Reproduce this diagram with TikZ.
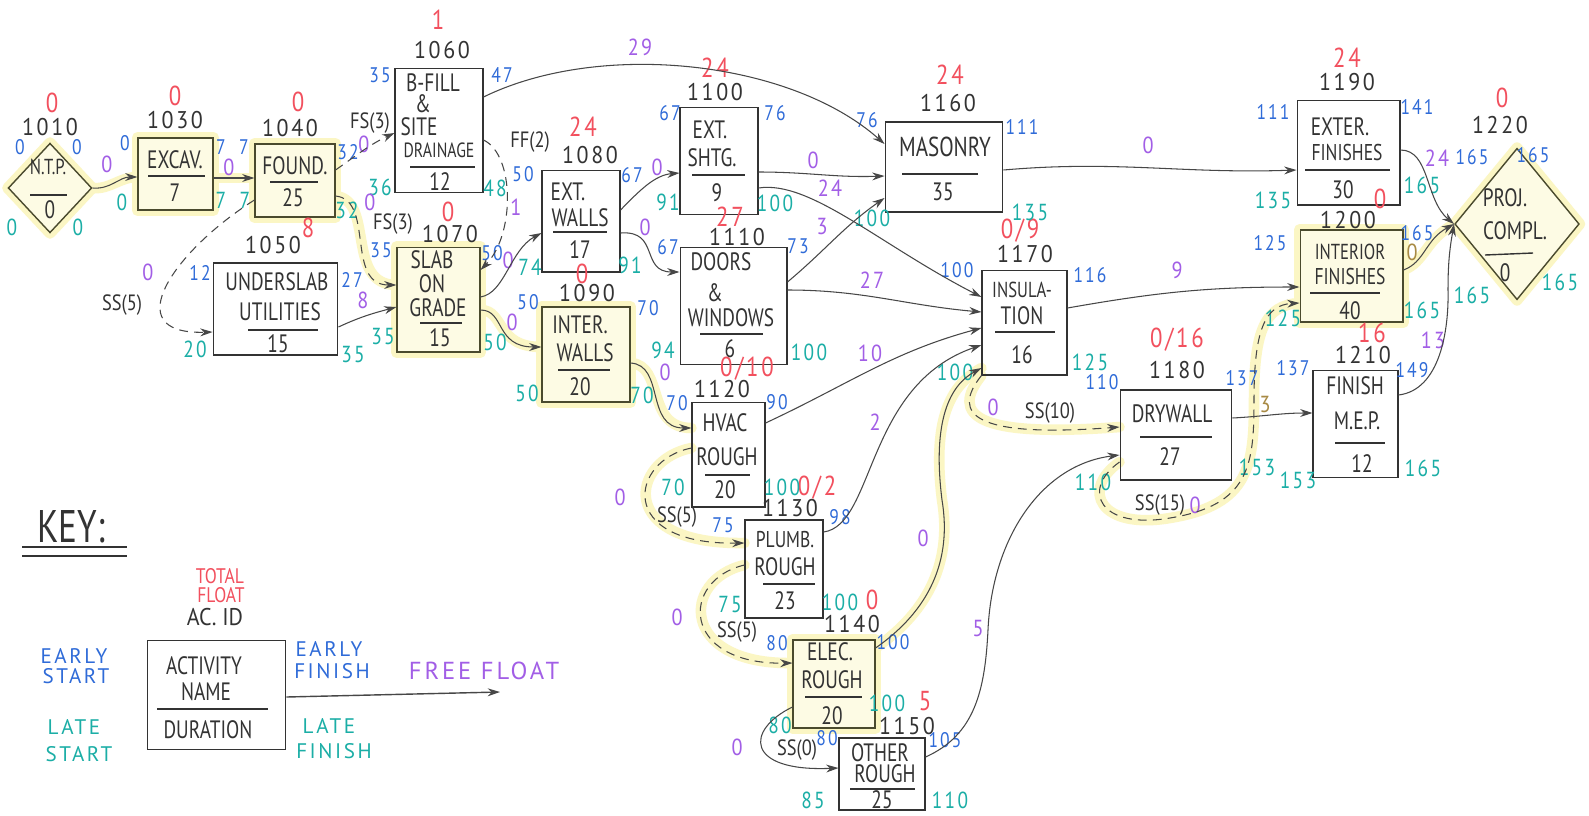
\documentclass[tikz,border=0pt]{standalone}
\usepackage{fontspec}
\setmainfont{PT Sans}
\newfontfamily\numfont{PT Sans}[LetterSpace=12]
\usetikzlibrary{arrows.meta,shapes.geometric}
\pgfdeclarelayer{bg}
\pgfsetlayers{bg,main}
\newcommand{\myfs}[1]{\fontsize{#1}{#1}\selectfont}
\newcommand{\critdraw}[2]{\begin{pgfonlayer}{bg}\path[glowline] #2;\end{pgfonlayer}\draw[#1] #2;}
\definecolor{ink}{HTML}{333333}
\definecolor{esblue}{HTML}{2F6BD8}
\definecolor{lsteal}{HTML}{1BAEA6}
\definecolor{tfred}{HTML}{F2505E}
\definecolor{ffpurp}{HTML}{A25EE6}
\definecolor{olive}{HTML}{A88A45}
\definecolor{glowc}{HTML}{FBF6C4}
\definecolor{critink}{HTML}{4A4A2E}
\tikzset{
  wh/.style 2 args={minimum width=#1*0.56693pt, minimum height=#2*0.56693pt},
  abox/.style={draw=ink, line width=0.8pt, inner sep=0pt},
  cbox/.style={abox, draw=critink, fill=glowc!45},
  txt/.style={text=ink, font=\myfs{11}, inner sep=0pt, yscale=1.3, transform shape},
  stxt/.style={txt, font=\myfs{9.5}},
  idl/.style={text=ink, font=\numfont\myfs{12.5}, inner sep=0pt, yscale=1.1, transform shape},
  tf/.style={text=tfred, font=\numfont\myfs{13}, inner sep=0pt, yscale=1.2, transform shape},
  es/.style={text=esblue, font=\numfont\myfs{10}, inner sep=0pt, yscale=1.2, transform shape},
  ls/.style={es, text=lsteal, font=\numfont\myfs{11}},
  ff/.style={text=ffpurp, font=\numfont\myfs{11.5}, inner sep=0pt, yscale=1.15, transform shape},
  ffo/.style={ff, text=olive},
  lag/.style={text=ink, font=\myfs{10.5}, inner sep=0pt, yscale=1.2, transform shape},
  keyb/.style={text=esblue, font=\numfont\myfs{12}, inner sep=0pt},
  keyt/.style={keyb, text=lsteal},
  divl/.style={draw=ink, line width=0.8pt},
  conn/.style={draw=ink!90, line width=0.6pt, -{Stealth[length=7pt,width=4.5pt]}},
  dconn/.style={conn, dash pattern=on 5pt off 3.5pt},
  glowline/.style={draw=glowc, line width=6pt, line cap=round, line join=round}
}
\begin{document}
\begin{tikzpicture}[x=0.02cm,y=-0.02cm]
\useasboundingbox (0,0) rectangle (1589,815);
\begin{pgfonlayer}{bg}\fill[white] (0,0) rectangle (1589,815);\end{pgfonlayer}

% ---------- activity boxes ----------
\node[diamond, abox, draw=critink, fill=glowc!45, wh={84}{90}] (a1010) at (50,188) {};
\node[cbox, wh={75}{72}]   (a1030) at (175.5,174) {};
\node[cbox, wh={80}{73}]   (a1040) at (295,180.5) {};
\node[abox, wh={125}{92}]  (a1050) at (275.5,309) {};
\node[abox, wh={88}{125}]  (a1060) at (439,130.5) {};
\node[cbox, wh={83}{105}]  (a1070) at (438.5,299.5) {};
\node[abox, wh={78}{102}]  (a1080) at (581,221) {};
\node[cbox, wh={88}{95}]   (a1090) at (586,354.5) {};
\node[abox, wh={78}{108}]  (a1100) at (719,161) {};
\node[abox, wh={107}{118}] (a1110) at (733.5,306) {};
\node[abox, wh={73}{105}]  (a1120) at (728.5,454.5) {};
\node[abox, wh={78}{98}]   (a1130) at (784,569) {};
\node[cbox, wh={82}{88}]   (a1140) at (834,684) {};
\node[abox, wh={86}{72}]   (a1150) at (882,774) {};
\node[abox, wh={118}{90}]  (a1160) at (944,167) {};
\node[abox, wh={85}{105}]  (a1170) at (1024.5,322.5) {};
\node[abox, wh={112}{90}]  (a1180) at (1176,435) {};
\node[abox, wh={103}{105}] (a1190) at (1348.5,152.5) {};
\node[cbox, wh={103}{92}]  (a1200) at (1351.5,276) {};
\node[abox, wh={85}{108}]  (a1210) at (1355.5,424) {};
\node[diamond, abox, draw=critink, fill=glowc!45, wh={125}{152}] (a1220) at (1517,224) {};
\node[abox, wh={139}{110}] (akey) at (216.5,695) {};

\begin{pgfonlayer}{bg}
\foreach \n in {a1030,a1040,a1070,a1090,a1140,a1200}{\draw[glowline] (\n.north west) rectangle (\n.south east);}
\draw[glowline] (a1010.north)--(a1010.east)--(a1010.south)--(a1010.west)--cycle;
\draw[glowline] (a1220.north)--(a1220.east)--(a1220.south)--(a1220.west)--cycle;
\end{pgfonlayer}

% ---------- box contents ----------
\node[stxt] (t1010) at (48,167) {N.T.P.};
\draw[divl] (30,195) -- (67,195);
\node[txt] (d1010) at (50,210) {0};
\node[txt] (t1030) at (175,160) {EXCAV.};
\draw[divl] (148,176) -- (205,176);
\node[txt] (d1030) at (175,193) {7};
\node[txt] (t1040) at (295,166) {FOUND.};
\draw[divl] (270,182) -- (318,182);
\node[txt] (d1040) at (293,198) {25};
\node[txt] (t1050a) at (277,282) {UNDERSLAB};
\node[txt] (t1050b) at (280,312) {UTILITIES};
\draw[divl] (248,330) -- (318,330);
\node[txt] (d1050) at (278,344) {15};
\node[txt] (t1060a) at (433,83) {B-FILL};
\node[txt] (t1060b) at (423,104) {\&};
\node[txt] (t1060c) at (419,127) {SITE};
\node[txt, font=\myfs{9}] (t1060d) at (439,150) {DRAINAGE};
\draw[divl] (410,167) -- (475,167);
\node[txt] (d1060) at (440,182) {12};
\node[txt] (t1070a) at (432,260) {SLAB};
\node[txt] (t1070b) at (432,284) {ON};
\node[txt] (t1070c) at (438,308) {GRADE};
\draw[divl] (420,323) -- (462,323);
\node[txt] (d1070) at (440,338) {15};
\node[txt] (t1080a) at (568,192) {EXT.};
\node[txt] (t1080b) at (580,218) {WALLS};
\draw[divl] (553,232) -- (607,232);
\node[txt] (d1080) at (580,250) {17};
\node[txt] (t1090a) at (580,325) {INTER.};
\node[txt] (t1090b) at (585,353) {WALLS};
\draw[divl] (558,370) -- (610,370);
\node[txt] (d1090) at (580,387) {20};
\node[txt] (t1100a) at (710,130) {EXT.};
\node[txt] (t1100b) at (712,158) {SHTG.};
\draw[divl] (692,175) -- (745,175);
\node[txt] (d1100) at (717,193) {9};
\node[txt] (t1110a) at (721,262) {DOORS};
\node[txt] (t1110b) at (715,293) {\&};
\node[txt] (t1110c) at (731,318) {WINDOWS};
\draw[divl] (700,334) -- (763,334);
\node[txt] (d1110) at (730,349) {6};
\node[txt] (t1120a) at (725,423) {HVAC};
\node[txt] (t1120b) at (727,457) {ROUGH};
\draw[divl] (705,475) -- (750,475);
\node[txt] (d1120) at (725,490) {20};
\node[txt, font=\myfs{10}] (t1130a) at (785,540) {PLUMB.};
\node[txt] (t1130b) at (785,567) {ROUGH};
\draw[divl] (763,584) -- (815,584);
\node[txt] (d1130) at (785,601) {23};
\node[txt] (t1140a) at (830,652) {ELEC.};
\node[txt] (t1140b) at (832,680) {ROUGH};
\draw[divl] (805,697) -- (862,697);
\node[txt] (d1140) at (832,716) {20};
\node[txt] (t1150a) at (880,753) {OTHER};
\node[txt] (t1150b) at (885,774) {ROUGH};
\draw[divl] (850,789) -- (915,789);
\node[txt] (d1150) at (882,800) {25};
\node[txt, font=\myfs{12}] (t1160) at (945,147) {MASONRY};
\draw[divl] (902,174) -- (978,174);
\node[txt] (d1160) at (943,192) {35};
\node[stxt] (t1170a) at (1022,290) {INSULA-};
\node[txt] (t1170b) at (1022,316) {TION};
\draw[divl] (995,332) -- (1055,332);
\node[txt] (d1170) at (1022,355) {16};
\node[txt] (t1180) at (1172,414) {DRYWALL};
\draw[divl] (1140,437) -- (1212,437);
\node[txt] (d1180) at (1170,457) {27};
\node[txt] (t1190a) at (1340,127) {EXTER.};
\node[txt, font=\myfs{10}] (t1190b) at (1347,153) {FINISHES};
\draw[divl] (1305,170) -- (1390,170);
\node[txt] (d1190) at (1343,190) {30};
\node[stxt] (t1200a) at (1350,252) {INTERIOR};
\node[txt, font=\myfs{10}] (t1200b) at (1350,277) {FINISHES};
\draw[divl] (1310,293) -- (1380,293);
\node[txt] (d1200) at (1350,311) {40};
\node[txt] (t1210a) at (1355,386) {FINISH};
\node[txt] (t1210b) at (1357,421) {M.E.P.};
\draw[divl] (1335,443) -- (1385,443);
\node[txt] (d1210) at (1362,464) {12};
\node[txt] (t1220a) at (1505,198) {PROJ.};
\node[txt] (t1220b) at (1515,231) {COMPL.};
\draw[divl] (1485,255) -- (1533,253);
\node[txt] (d1220) at (1505,273) {0};

% ---------- activity IDs ----------
\node[idl] (id1010) at (50,127) {1010};
\node[idl] (id1030) at (175,120) {1030};
\node[idl] (id1040) at (290,128) {1040};
\node[idl] (id1050) at (273,245) {1050};
\node[idl] (id1060) at (442,50) {1060};
\node[idl] (id1070) at (450,234) {1070};
\node[idl] (id1080) at (590,155) {1080};
\node[idl] (id1090) at (587,293) {1090};
\node[idl] (id1100) at (715,92) {1100};
\node[idl] (id1110) at (737,237) {1110};
\node[idl] (id1120) at (722,389) {1120};
\node[idl] (id1130) at (790,508) {1130};
\node[idl] (id1140) at (852,624) {1140};
\node[idl] (id1150) at (907,726) {1150};
\node[idl] (id1160) at (948,103) {1160};
\node[idl] (id1170) at (1025,254) {1170};
\node[idl] (id1180) at (1177,370) {1180};
\node[idl] (id1190) at (1347,82) {1190};
\node[idl] (id1200) at (1348,220) {1200};
\node[idl] (id1210) at (1363,355) {1210};
\node[idl] (id1220) at (1500,125) {1220};

% ---------- total float ----------
\node[tf] (tf1010) at (52,103) {0};
\node[tf] (tf1030) at (175,96) {0};
\node[tf] (tf1040) at (298,102) {0};
\node[tf] (tf1050) at (308,228) {8};
\node[tf] (tf1060) at (438,20) {1};
\node[tf] (tf1070) at (448,212) {0};
\node[tf] (tf1080) at (583,127) {24};
\node[tf] (tf1090) at (582,274) {0};
\node[tf] (tf1100) at (715,68) {24};
\node[tf] (tf1110) at (730,217) {27};
\node[tf] (tf1120) at (747,369) {0/10};
\node[tf] (tf1130) at (817,488) {0/2};
\node[tf] (tf1140) at (872,600) {0};
\node[tf] (tf1150) at (925,701) {5};
\node[tf] (tf1160) at (950,75) {24};
\node[tf] (tf1170) at (1020,231) {0/9};
\node[tf] (tf1180) at (1177,340) {0/16};
\node[tf] (tf1190) at (1347,58) {24};
\node[tf] (tf1200) at (1380,199) {0};
\node[tf] (tf1210) at (1372,333) {16};
\node[tf] (tf1220) at (1502,98) {0};

% ---------- early start / finish ----------
\node[es] (es1010) at (20,147) {0};
\node[es] (ef1010) at (77,147) {0};
\node[es] (es1030) at (125,143) {0};
\node[es] (ef1030) at (221,147) {7};
\node[es] (es1040) at (244,147) {7};
\node[es] (ef1040) at (348,152) {32};
\node[es] (es1050) at (200,273) {12};
\node[es] (ef1050) at (352,280) {27};
\node[es] (es1060) at (380,75) {35};
\node[es] (ef1060) at (502,75) {47};
\node[es] (es1070) at (381,250) {35};
\node[es] (ef1070) at (492,253) {50};
\node[es] (es1080) at (523,174) {50};
\node[es] (ef1080) at (632,175) {67};
\node[es] (es1090) at (528,302) {50};
\node[es] (ef1090) at (648,308) {70};
\node[es] (es1100) at (670,113) {67};
\node[es] (ef1100) at (775,113) {76};
\node[es] (es1110) at (668,247) {67};
\node[es] (ef1110) at (798,246) {73};
\node[es] (es1120) at (677,403) {70};
\node[es] (ef1120) at (777,402) {90};
\node[es] (es1130) at (723,525) {75};
\node[es] (ef1130) at (840,517) {98};
\node[es] (es1140) at (777,643) {80};
\node[es] (ef1140) at (893,642) {100};
\node[es] (es1150) at (827,738) {80};
\node[es] (ef1150) at (945,740) {105};
\node[es] (es1160) at (867,120) {76};
\node[es] (ef1160) at (1022,127) {111};
\node[es] (es1170) at (957,270) {100};
\node[es] (ef1170) at (1090,275) {116};
\node[es] (es1180) at (1102,382) {110};
\node[es] (ef1180) at (1242,378) {137};
\node[es] (es1190) at (1273,112) {111};
\node[es] (ef1190) at (1417,107) {141};
\node[es] (es1200) at (1270,243) {125};
\node[es] (ef1200) at (1417,233) {165};
\node[es] (es1210) at (1293,368) {137};
\node[es] (ef1210) at (1412,370) {149};
\node[es] (es1220) at (1472,157) {165};
\node[es] (ef1220) at (1533,155) {165};

% ---------- late start / finish ----------
\node[ls] (ls1010) at (12,227) {0};
\node[ls] (lf1010) at (78,227) {0};
\node[ls] (ls1030) at (122,202) {0};
\node[ls] (lf1030) at (221,200) {7};
\node[ls] (ls1040) at (245,200) {7};
\node[ls] (lf1040) at (347,210) {32};
\node[ls] (ls1050) at (195,349) {20};
\node[ls] (lf1050) at (353,355) {35};
\node[ls] (ls1060) at (380,187) {36};
\node[ls] (lf1060) at (495,188) {48};
\node[ls] (ls1070) at (383,337) {35};
\node[ls] (lf1070) at (495,342) {50};
\node[ls] (ls1080) at (530,267) {74};
\node[ls] (lf1080) at (630,265) {91};
\node[ls] (ls1090) at (527,393) {50};
\node[ls] (lf1090) at (642,395) {70};
\node[ls] (ls1100) at (668,202) {91};
\node[ls] (lf1100) at (775,203) {100};
\node[ls] (ls1110) at (663,350) {94};
\node[ls] (lf1110) at (809,352) {100};
\node[ls] (ls1120) at (673,487) {70};
\node[ls] (lf1120) at (782,487) {100};
\node[ls] (ls1130) at (730,605) {75};
\node[ls] (lf1130) at (840,602) {100};
\node[ls] (ls1140) at (780,725) {80};
\node[ls] (lf1140) at (887,703) {100};
\node[ls] (ls1150) at (813,800) {85};
\node[ls] (lf1150) at (950,800) {110};
\node[ls] (ls1160) at (872,218) {100};
\node[ls] (lf1160) at (1030,212) {135};
\node[ls] (ls1170) at (955,372) {100};
\node[ls] (lf1170) at (1090,362) {125};
\node[ls] (ls1180) at (1093,482) {110};
\node[ls] (lf1180) at (1257,467) {153};
\node[ls] (ls1190) at (1273,200) {135};
\node[ls] (lf1190) at (1422,185) {165};
\node[ls] (ls1200) at (1283,318) {125};
\node[ls] (lf1200) at (1422,310) {165};
\node[ls] (ls1210) at (1298,480) {153};
\node[ls] (lf1210) at (1423,468) {165};
\node[ls] (ls1220) at (1472,295) {165};
\node[ls] (lf1220) at (1560,282) {165};

% ---------- free float ----------
\node[ff] (ff01) at (107,164) {0};
\node[ff] (ff02) at (229,167) {0};
\node[ff] (ff03) at (364,144) {0};
\node[ff] (ff04) at (370,202) {0};
\node[ff] (ff05) at (148,272) {0};
\node[ff] (ff06) at (363,300) {8};
\node[ff] (ff07) at (640,47) {29};
\node[ff] (ff08) at (516,207) {1};
\node[ff] (ff09) at (508,260) {0};
\node[ff] (ff10) at (512,322) {0};
\node[ff] (ff11) at (657,167) {0};
\node[ff] (ff12) at (645,227) {0};
\node[ff] (ff13) at (665,372) {0};
\node[ff] (ff14) at (813,160) {0};
\node[ff] (ff15) at (830,188) {24};
\node[ff] (ff16) at (822,227) {3};
\node[ff] (ff17) at (872,280) {27};
\node[ff] (ff18) at (870,353) {10};
\node[ff] (ff19) at (875,422) {2};
\node[ff] (ff20) at (923,538) {0};
\node[ff] (ff21) at (620,497) {0};
\node[ff] (ff22) at (677,617) {0};
\node[ff] (ff23) at (737,747) {0};
\node[ff] (ff24) at (978,628) {5};
\node[ff] (ff25) at (1148,145) {0};
\node[ff] (ff26) at (1177,270) {9};
\node[ff] (ff27) at (993,407) {0};
\node[ff] (ff28) at (1195,505) {0};
\node[ffo] (ff29) at (1265,405) {3};
\node[ff] (ff30) at (1437,158) {24};
\node[ffo] (ff31) at (1412,252) {0};
\node[ff] (ff32) at (1433,340) {13};

% ---------- lag labels ----------
\node[lag] (lg1) at (370,123) {FS(3)};
\node[lag] (lg2) at (393,224) {FS(3)};
\node[lag] (lg3) at (122,305) {SS(5)};
\node[lag] (lg4) at (530,142) {FF(2)};
\node[lag] (lg5) at (677,517) {SS(5)};
\node[lag] (lg6) at (737,632) {SS(5)};
\node[lag] (lg7) at (797,750) {SS(0)};
\node[lag] (lg8) at (1050,413) {SS(10)};
\node[lag] (lg9) at (1160,505) {SS(15)};

% ---------- connectors ----------
\critdraw{conn}{(a1010.east) to[out=-5,in=180] (a1030.west |- 0,177)}
\critdraw{conn}{(a1030.east |- 0,178) -- (a1040.west |- 0,178)}
\draw[dconn] (a1040.east |- 0,170) to[out=35,in=205] (a1060.west |- 0,133);
\critdraw{dconn}{(a1040.east |- 0,196) .. controls (375,200) and (345,285) .. (a1070.west |- 0,285)}
\draw[dconn] (a1040.west |- 0,200) .. controls (175,250) and (115,335) .. (a1050.west |- 0,332);
\draw[conn] (a1050.east |- 0,327) to[out=25,in=195] (a1070.west |- 0,307);
\draw[conn] (a1060.east |- 0,97) .. controls (600,40) and (790,60) .. (a1160.west |- 0,144);
\draw[dconn] (a1060.east |- 0,140) .. controls (515,155) and (515,235) .. (a1070.east |- 0,270);
\draw[conn] (a1070.east |- 0,297) .. controls (505,293) and (510,250) .. (a1080.west |- 0,233);
\critdraw{conn}{(a1070.east |- 0,310) .. controls (505,310) and (495,347) .. (a1090.west |- 0,347)}
\draw[conn] (a1080.east |- 0,210) .. controls (640,190) and (655,175) .. (a1100.west |- 0,173);
\draw[conn] (a1080.east |- 0,233) .. controls (660,230) and (640,272) .. (a1110.west |- 0,272);
\critdraw{conn}{(a1090.east |- 0,363) .. controls (665,365) and (645,428) .. (a1120.west |- 0,428)}
\draw[conn] (a1100.east |- 0,172) to[out=0,in=182] (a1160.west |- 0,176);
\draw[conn] (a1100.east |- 0,188) .. controls (810,180) and (880,245) .. (a1170.west |- 0,297);
\draw[conn] (a1110.east |- 0,282) to[out=40,in=215] (a1160.west |- 0,198);
\draw[conn] (a1110.east |- 0,290) to[out=0,in=175] (a1170.west |- 0,312);
\draw[conn] (a1120.east |- 0,423) to[out=25,in=195] (a1170.west |- 0,328);
\draw[conn] (a1130.east |- 0,532) .. controls (875,525) and (865,385) .. (a1170.west |- 0,345);
\critdraw{conn}{(a1140.east |- 0,648) .. controls (930,610) and (952,560) .. (942,500) .. controls (932,420) and (950,385) .. (a1170.west |- 0,368)}
\critdraw{dconn}{(a1120.west |- 0,448) .. controls (630,460) and (615,545) .. (a1130.west |- 0,543)}
\critdraw{dconn}{(a1130.west |- 0,565) .. controls (680,580) and (680,665) .. (a1140.west |- 0,663)}
\draw[conn] (a1140.west |- 0,707) .. controls (745,730) and (745,772) .. (a1150.west |- 0,768);
\draw[conn] (a1150.east |- 0,757) .. controls (975,735) and (985,690) .. (988,630) .. controls (992,540) and (1040,465) .. (a1180.west |- 0,455);
\draw[conn] (a1160.east |- 0,170) to[out=5,in=182] (a1190.west |- 0,170);
\draw[conn] (a1170.east |- 0,308) to[out=10,in=180] (a1200.west |- 0,287);
\critdraw{dconn}{(a1170.south west) .. controls (950,415) and (975,438) .. (a1180.west |- 0,427)}
\critdraw{dconn}{(a1180.west |- 0,462) .. controls (1080,490) and (1100,530) .. (1170,518) .. controls (1250,505) and (1254,465) .. (1254,400) .. controls (1254,330) and (1265,305) .. (a1200.west |- 0,303)}
\draw[conn] (a1180.east |- 0,418) to[out=3,in=180] (a1210.west |- 0,413);
\draw[conn] (a1190.east |- 0,150) .. controls (1430,150) and (1425,200) .. (a1220.west);
\critdraw{conn}{(a1200.east |- 0,270) .. controls (1425,262) and (1425,240) .. (a1220.west)}
\draw[conn] (a1210.east |- 0,395) .. controls (1440,390) and (1449,330) .. (1448,290) to[out=90,in=-100] (a1220.west);

% ---------- key ----------
\node[text=ink, font=\myfs{20}, inner sep=0pt, yscale=1.3, transform shape] (keyh) at (71,527) {KEY:};
\draw[ink, line width=1pt] (22,547) -- (127,547);
\draw[ink, line width=1pt] (22,556) -- (127,556);
\node[tf, font=\myfs{10}] (ktf1) at (220,576) {TOTAL};
\node[tf, font=\myfs{10}] (ktf2) at (221,595) {FLOAT};
\node[idl, font=\myfs{12.5}] (kid) at (215,617) {AC. ID};
\node[txt] (kn1) at (204,666) {ACTIVITY};
\node[txt] (kn2) at (206,692) {NAME};
\draw[divl] (157,709) -- (268,709);
\node[txt] (kdu) at (208,730) {DURATION};
\node[keyb] (kes1) at (74,656) {EARLY};
\node[keyb] (kes2) at (76,676) {START};
\node[keyt] (kls1) at (74,727) {LATE};
\node[keyt] (kls2) at (79,754) {START};
\node[keyb] (kef1) at (329,649) {EARLY};
\node[keyb] (kef2) at (332,671) {FINISH};
\node[keyt] (klf1) at (329,726) {LATE};
\node[keyt] (klf2) at (334,751) {FINISH};
\node[keyb, text=ffpurp, font=\numfont\myfs{14}] (kff1) at (484,671) {FREE FLOAT};
\coordinate (kffend) at (500,692);
\draw[conn, line width=0.8pt] (akey.east |- 0,697) -- (kffend);
\end{tikzpicture}
\end{document}
